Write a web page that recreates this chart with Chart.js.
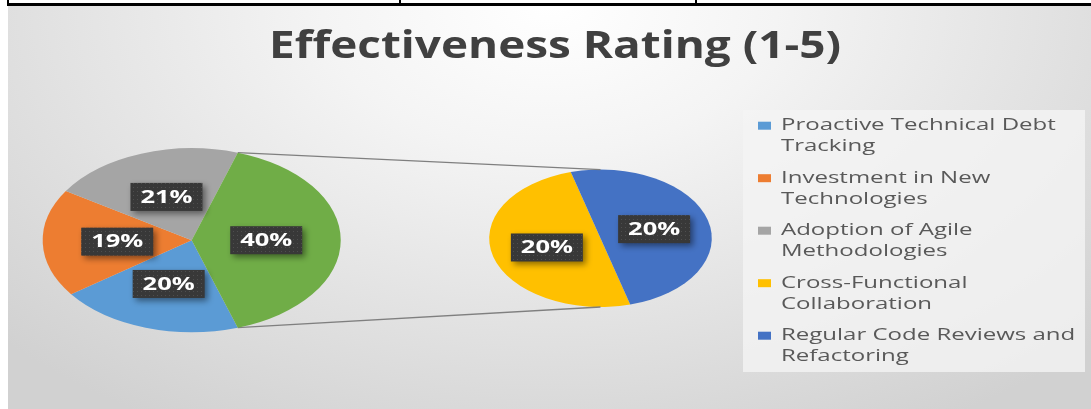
<!DOCTYPE html>
<html>
<head>
<meta charset="utf-8">
<script src="https://cdn.jsdelivr.net/npm/chart.js@4.4.0/dist/chart.umd.min.js"></script>
<style>
  html, body { margin: 0; padding: 0; background: #fff; }
  #wrap { position: relative; width: 1091px; height: 409px; overflow: hidden; background: #fff; }
  .rule { position: absolute; background: #000; }
  #panel {
    position: absolute; left: 8px; top: 6px; width: 1083px; height: 403px;
    background: radial-gradient(ellipse 70% 120% at 50% 0%, #ffffff 0%, #f4f4f4 30%, #d1d1d1 100%);
  }
  #panel canvas { position: absolute; left: 0; top: 0; }
</style>
</head>
<body>
<div id="wrap">
  <div class="rule" style="left:7px; top:3px; width:1084px; height:3px;"></div>
  <div class="rule" style="left:7px; top:0; width:2px; height:5px;"></div>
  <div class="rule" style="left:399px; top:0; width:2px; height:5px;"></div>
  <div class="rule" style="left:695px; top:0; width:2px; height:5px;"></div>
  <div id="panel">
    <canvas id="smallPie" width="1083" height="403"></canvas>
    <canvas id="mainPie" width="1083" height="403"></canvas>
  </div>
</div>
<script>
// ========== DATA ==========
const titleText = "Effectiveness Rating (1-5)";
const categories = [
  ["Proactive Technical Debt", "Tracking"],
  ["Investment in New", "Technologies"],
  ["Adoption of Agile", "Methodologies"],
  ["Cross-Functional", "Collaboration"],
  ["Regular Code Reviews and", "Refactoring"],
];
const shares = [20, 19, 21, 20, 20]; // share of the total, in %
const splitAt = 3; // the last two categories go into the small pie

// ========== LOOK ==========
const colors = ["#5B9BD5", "#ED7D31", "#A5A5A5", "#FFC000", "#4472C4"];
const otherColor = "#70AD47";
const W = 1083, H = 403;
const SX = 1.62; // the whole picture is stretched sideways
const MAIN = { cx: 183.7, cy: 234.2, r: 92 };
const SMALL = { cx: 592.5, cy: 232.3, r: 68.7 };

const total = shares.reduce((a, b) => a + b, 0);
const mainValues = shares.slice(0, splitAt).concat([shares.slice(splitAt).reduce((a, b) => a + b, 0)]);
const smallValues = shares.slice(splitAt);

function padFor(p) {
  return { left: p.cx - p.r, top: p.cy - p.r, right: W - p.cx - p.r, bottom: H - p.cy - p.r };
}

// dotted fill used by the excel style data labels
const dot = document.createElement("canvas");
dot.width = 4; dot.height = 4;
const dctx = dot.getContext("2d");
dctx.fillStyle = "#383838"; dctx.fillRect(0, 0, 4, 4);
dctx.fillStyle = "#4e4e4e"; dctx.fillRect(1, 1, 1, 1);

function drawTag(ctx, x, y, text) {
  ctx.save();
  ctx.shadowColor = "rgba(0,0,0,0.45)";
  ctx.shadowBlur = 6; ctx.shadowOffsetX = 3; ctx.shadowOffsetY = 3;
  ctx.fillStyle = ctx.createPattern(dot, "repeat");
  ctx.fillRect(x - 36, y - 14, 72, 28);
  ctx.restore();
  ctx.save();
  ctx.translate(x, y + 1);
  ctx.scale(1.5, 1);
  ctx.font = "bold 17px 'Open Sans'";
  ctx.fillStyle = "#fff";
  ctx.textAlign = "center";
  ctx.textBaseline = "middle";
  ctx.fillText(text, 0, 0);
  ctx.restore();
}

// squash the round pie into the ellipse of the picture
const stretch = {
  id: "stretch",
  beforeDatasetsDraw(chart) {
    const a = chart.getDatasetMeta(0).data[0];
    const ctx = chart.ctx;
    ctx.save();
    ctx.translate(a.x, a.y);
    ctx.scale(SX, 1);
    ctx.translate(-a.x, -a.y);
  },
  afterDatasetsDraw(chart) {
    chart.ctx.restore();
  },
};

function edgePoint(arc, angle, frac) {
  return {
    x: arc.x + Math.cos(angle) * arc.outerRadius * frac * SX,
    y: arc.y + Math.sin(angle) * arc.outerRadius * frac,
  };
}

const pctLabels = {
  id: "pctLabels",
  afterDraw(chart) {
    const ctx = chart.ctx;
    const vals = chart.data.datasets[0].data;
    chart.getDatasetMeta(0).data.forEach((arc, i) => {
      const p = edgePoint(arc, (arc.startAngle + arc.endAngle) / 2, 0.5);
      drawTag(ctx, p.x, p.y, Math.round((vals[i] / total) * 100) + "%");
    });
  },
};

function baseOptions(place, rotation) {
  return {
    responsive: false,
    animation: false,
    events: [],
    rotation: rotation,
    layout: { padding: padFor(place) },
    plugins: { legend: { display: false }, tooltip: { enabled: false }, title: { display: false } },
  };
}

// ========== SMALL PIE ==========
const smallChart = new Chart(document.getElementById("smallPie"), {
  type: "pie",
  data: {
    labels: categories.slice(splitAt),
    datasets: [{ data: smallValues, backgroundColor: colors.slice(splitAt), borderWidth: 0 }],
  },
  options: baseOptions(SMALL, 164.5),
  plugins: [stretch, pctLabels],
});

// title, legend and the two connector lines live on the main chart
const decor = {
  id: "decor",
  beforeDatasetsDraw(chart) {
    const ctx = chart.ctx;
    const meta = chart.getDatasetMeta(0).data;
    const other = meta[meta.length - 1];
    const sm = smallChart.getDatasetMeta(0).data[0];
    const top = edgePoint(other, other.startAngle, 1);
    const bot = edgePoint(other, other.endAngle, 1);
    ctx.save();
    ctx.strokeStyle = "#7f7f7f";
    ctx.lineWidth = 1.3;
    ctx.beginPath();
    ctx.moveTo(top.x, top.y); ctx.lineTo(sm.x, sm.y - sm.outerRadius);
    ctx.moveTo(bot.x, bot.y); ctx.lineTo(sm.x, sm.y + sm.outerRadius);
    ctx.stroke();
    ctx.restore();
  },
  afterDraw(chart) {
    const ctx = chart.ctx;
    // title
    ctx.save();
    ctx.font = "bold 37px 'Open Sans'";
    ctx.fillStyle = "#404040";
    ctx.textAlign = "center";
    ctx.textBaseline = "alphabetic";
    ctx.translate(547, 52);
    ctx.scale(1.24, 1);
    ctx.fillText(titleText, 0, 0);
    ctx.restore();

    // legend
    ctx.save();
    ctx.fillStyle = "rgba(244,244,244,0.8)";
    ctx.fillRect(735, 104, 342, 262);
    categories.forEach((lines, i) => {
      const y0 = 124 + 52.5 * i;
      ctx.fillStyle = colors[i];
      ctx.fillRect(750, y0 - 8.3, 13, 8);
      ctx.fillStyle = "#595959";
      ctx.font = "16px 'Open Sans'";
      ctx.textAlign = "left";
      ctx.textBaseline = "alphabetic";
      lines.forEach((ln, j) => {
        ctx.save();
        ctx.translate(773, y0 + 21 * j);
        ctx.scale(1.5, 1);
        ctx.fillText(ln, 0, 0);
        ctx.restore();
      });
    });
    ctx.restore();
  },
};

// ========== MAIN PIE ==========
new Chart(document.getElementById("mainPie"), {
  type: "pie",
  data: {
    labels: categories.slice(0, splitAt).concat([["Other"]]),
    datasets: [{ data: mainValues, backgroundColor: colors.slice(0, splitAt).concat([otherColor]), borderWidth: 0 }],
  },
  options: baseOptions(MAIN, 162),
  plugins: [decor, stretch, pctLabels],
});
</script>
</body>
</html>
